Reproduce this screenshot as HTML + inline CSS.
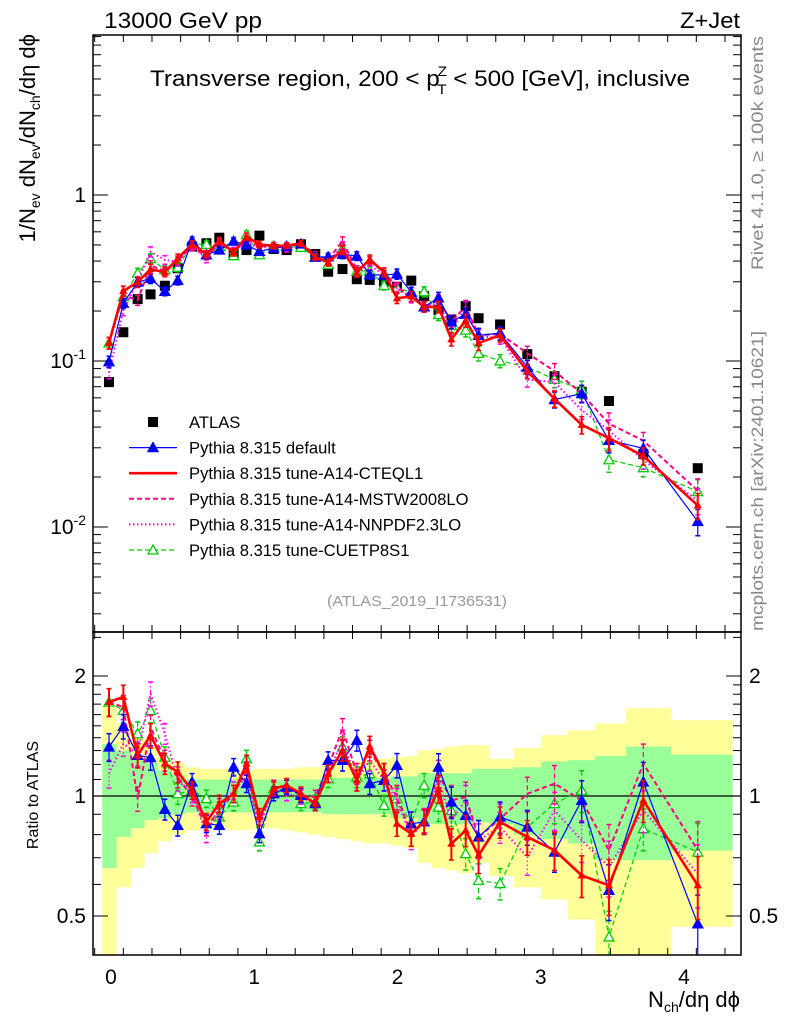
<!DOCTYPE html>
<html><head><meta charset="utf-8"><style>
html,body{margin:0;padding:0;background:#fff;}
svg{display:block;font-family:"Liberation Sans",sans-serif;}
</style></head><body>
<svg id="chart" width="786" height="1024" viewBox="0 0 786 1024">
<defs>
<clipPath id="cm"><rect x="93" y="35" width="648" height="597"/></clipPath>
<clipPath id="cr"><rect x="93" y="632" width="648" height="323"/></clipPath>
</defs>
<g id="bands" clip-path="url(#cr)"></g>
<g id="marks"></g>
<rect x="93" y="35" width="648" height="597" fill="none" stroke="#000" stroke-width="1.5"/>
<rect x="93" y="632" width="648" height="323" fill="none" stroke="#000" stroke-width="1.5"/>
<g id="axes"></g>
<text x="104" y="28" font-size="22" textLength="158" lengthAdjust="spacingAndGlyphs">13000 GeV pp</text>
<text x="680" y="28" font-size="22" textLength="60" lengthAdjust="spacingAndGlyphs">Z+Jet</text>
<text x="150" y="86" font-size="22" textLength="540" lengthAdjust="spacingAndGlyphs">Transverse region, 200 &lt; p<tspan font-size="14" dy="-10" dx="-2">Z</tspan><tspan font-size="14" dy="18" dx="-9">T</tspan><tspan dy="-8"> &lt; 500 [GeV], inclusive</tspan></text>
<text transform="translate(763,36) rotate(-90)" font-size="17" fill="#888" text-anchor="end" textLength="234" lengthAdjust="spacingAndGlyphs">Rivet 4.1.0, ≥ 100k events</text>
<text transform="translate(763,631) rotate(-90)" font-size="17" fill="#888" textLength="300" lengthAdjust="spacingAndGlyphs">mcplots.cern.ch [arXiv:2401.10621]</text>
<text x="327" y="606" font-size="15" fill="#999" textLength="180" lengthAdjust="spacingAndGlyphs">(ATLAS_2019_I1736531)</text>
<text transform="translate(35,34) rotate(-90)" font-size="22" text-anchor="end">1/N<tspan font-size="14" dy="5">ev</tspan><tspan dy="-5"> dN</tspan><tspan font-size="14" dy="5">ev</tspan><tspan dy="-5">/dN</tspan><tspan font-size="14" dy="5">ch</tspan><tspan dy="-5">/dη dϕ</tspan></text>
<text transform="translate(38,795) rotate(-90)" font-size="16" text-anchor="middle">Ratio to ATLAS</text>
<text x="740" y="1007" font-size="22" text-anchor="end">N<tspan font-size="14" dy="5">ch</tspan><tspan dy="-5">/dη dϕ</tspan></text>
<g id="legend"></g>
</svg>
<script>
const xs=[0,0.1,0.2,0.29,0.39,0.48,0.58,0.68,0.77,0.87,0.96,1.05,1.15,1.24,1.34,1.44,1.53,1.63,1.73,1.82,1.92,2.01,2.11,2.2,2.3,2.39,2.49,2.58,2.73,2.92,3.11,3.3,3.49,3.73,4.11];
const atlas=[0.0746,0.149,0.236,0.252,0.284,0.362,0.489,0.512,0.553,0.446,0.466,0.569,0.473,0.466,0.505,0.441,0.345,0.358,0.311,0.308,0.301,0.280,0.305,0.246,0.203,0.178,0.214,0.181,0.166,0.110,0.081,0.0653,0.0574,0.0275,0.0226];
const rDefault=[1.327,1.495,1.265,1.248,0.926,0.844,1.084,0.852,0.844,1.182,1.074,0.804,1.013,1.053,1.004,0.957,1.229,1.229,1.379,1.074,1.095,1.194,0.852,0.861,1.182,0.966,0.894,0.789,0.886,0.836,0.723,0.975,0.580,1.084,0.478];
const rCTEQ=[1.721,1.772,1.265,1.419,1.205,1.149,1.033,0.861,0.957,1.013,1.205,0.886,1.043,1.064,1.013,0.957,1.138,1.302,1.095,1.332,1.138,0.852,0.804,0.861,1.043,0.759,0.820,0.710,0.861,0.789,0.731,0.632,0.597,0.975,0.597];
const rMSTW=[1.721,1.672,0.985,1.490,1.229,1.116,0.994,0.836,0.920,1.013,1.160,0.861,1.053,1.053,1.004,0.994,1.182,1.475,1.138,1.302,1.138,0.994,0.804,0.869,1.138,0.975,0.994,0.789,0.877,1.013,1.074,0.975,0.731,1.205,0.731];
const rNNPDF=[1.138,1.353,1.277,1.806,1.433,1.095,1.013,0.804,0.938,1.033,1.116,0.836,1.053,1.013,0.994,0.957,1.138,1.379,1.095,1.229,1.095,0.975,0.789,0.869,1.095,0.869,0.975,0.774,0.836,0.703,0.920,0.774,0.664,0.920,0.639];
const rCUETP=[1.721,1.640,1.433,1.640,1.252,1.013,1.033,0.985,0.886,0.966,1.240,0.767,1.043,1.053,0.957,0.966,1.105,1.327,1.116,1.138,0.947,0.985,0.852,1.064,0.938,0.920,0.717,0.614,0.603,0.836,0.957,1.033,0.443,0.828,0.723];
const mcErr=[0.08,0.07,0.07,0.07,0.06,0.06,0.05,0.05,0.05,0.05,0.05,0.05,0.04,0.04,0.04,0.04,0.05,0.06,0.06,0.06,0.06,0.07,0.07,0.07,0.08,0.09,0.09,0.10,0.09,0.10,0.11,0.12,0.16,0.12,0.18];
const yelHi=[1.69,1.52,1.40,1.33,1.25,1.21,1.18,1.17,1.17,1.16,1.16,1.17,1.17,1.17,1.18,1.18,1.20,1.20,1.22,1.23,1.24,1.25,1.26,1.30,1.31,1.33,1.34,1.34,1.24,1.32,1.42,1.46,1.52,1.66,1.55];
const yelLo=[0.39,0.59,0.66,0.72,0.77,0.80,0.82,0.83,0.83,0.82,0.82,0.83,0.83,0.82,0.81,0.80,0.79,0.78,0.77,0.76,0.76,0.75,0.74,0.68,0.66,0.65,0.64,0.68,0.63,0.59,0.55,0.49,0.39,0.39,0.47];
const grnHi=[1.35,1.30,1.25,1.21,1.16,1.13,1.10,1.10,1.10,1.10,1.10,1.10,1.10,1.10,1.10,1.10,1.11,1.11,1.11,1.11,1.11,1.12,1.12,1.14,1.14,1.14,1.14,1.17,1.17,1.18,1.22,1.23,1.26,1.33,1.27];
const grnLo=[0.66,0.79,0.83,0.87,0.88,0.90,0.91,0.91,0.91,0.91,0.91,0.91,0.91,0.91,0.91,0.91,0.90,0.90,0.90,0.90,0.90,0.88,0.88,0.85,0.85,0.85,0.85,0.86,0.85,0.80,0.78,0.76,0.69,0.69,0.73];
const xTicks=[0,1,2,3,4];
const mainTicks=[0.01,0.1,1];
const mainTickLabels=["10⁻²","10⁻¹","1"];
const ratioTicks=[0.5,1,2];
const ratioTickLabels=["0.5","1","2"];

const NS="http://www.w3.org/2000/svg";
const X=v=>109+v*143.25;
const Ym=v=>195-166*Math.log10(v);
const Yr=r=>796-120*Math.log2(r);
function el(tag,attrs,parent){const e=document.createElementNS(NS,tag);for(const k in attrs)e.setAttribute(k,attrs[k]);parent.appendChild(e);return e;}
const bands=document.getElementById('bands'),marks=document.getElementById('marks'),axes=document.getElementById('axes'),legend=document.getElementById('legend');

const edges=[xs[0]-0.047];
for(let i=0;i<xs.length-1;i++)edges.push((xs[i]+xs[i+1])/2);
edges.push(4.35);
for(let i=0;i<xs.length;i++){
  const y=el('rect',{x:X(edges[i]),y:Yr(yelHi[i]),width:X(edges[i+1])-X(edges[i])+0.5,height:Yr(yelLo[i])-Yr(yelHi[i]),fill:'#ffff99'},bands);
  
  
}
for(let i=0;i<xs.length;i++){
  const g=el('rect',{x:X(edges[i]),y:Yr(grnHi[i]),width:X(edges[i+1])-X(edges[i])+0.5,height:Yr(grnLo[i])-Yr(grnHi[i]),fill:'#99ff99'},bands);
  
  
}
const one=el('line',{x1:93,x2:741,y1:Yr(1),y2:Yr(1),stroke:'#000','stroke-width':1.2},marks);



const series=[
 {name:'cuetp8s1',r:rCUETP,color:'#00cc00',w:1.2,dash:'5,3',marker:'open'},
 {name:'nnpdf',r:rNNPDF,color:'#ff00ff',w:2,dash:'1.5,2.5',marker:null},
 {name:'mstw',r:rMSTW,color:'#ff0080',w:2,dash:'5,3',marker:null},
 {name:'default',r:rDefault,color:'#0000ff',w:1.2,dash:null,marker:'filled'},
 {name:'cteql1',r:rCTEQ,color:'#ff0000',w:2.6,dash:null,marker:'small'}
];
function tri(g,cx,cy,s,color,filled){
  const p=el('polygon',{points:`${cx},${cy-s} ${cx-s},${cy+s*0.8} ${cx+s},${cy+s*0.8}`,fill:filled?color:'#fff',stroke:color,'stroke-width':1.3},g);
  
  
}
function drawSeries(s,panel){
  const g=el('g',{'clip-path':panel==='main'?'url(#cm)':'url(#cr)'},marks);
  
  
  const val=i=>panel==='main'?atlas[i]*s.r[i]:s.r[i];
  const Y=panel==='main'?Ym:Yr;
  for(let i=0;i<xs.length;i++){
    const v=val(i),e=v*mcErr[i];
    const b=el('line',{x1:X(xs[i]),x2:X(xs[i]),y1:Y(v+e),y2:Y(Math.max(v-e,1e-4)),stroke:s.color,'stroke-width':s.w>2?2:1.2},g);
    if(s.dash)b.setAttribute('stroke-dasharray',s.dash);
    
    
    for(const yy of [Y(v+e),Y(Math.max(v-e,1e-4))]){
      const c=el('line',{x1:X(xs[i])-2.5,x2:X(xs[i])+2.5,y1:yy,y2:yy,stroke:s.color,'stroke-width':1.5},g);
      
      
    }
  }
  const pts=xs.map((x,i)=>X(x)+','+Y(val(i))).join(' ');
  const pl=el('polyline',{points:pts,fill:'none',stroke:s.color,'stroke-width':s.w},g);
  if(s.dash)pl.setAttribute('stroke-dasharray',s.dash);
  
  
  for(let i=0;i<xs.length;i++){
    if(s.marker==='filled')tri(g,X(xs[i]),Y(val(i)),5,s.color,true);
    else if(s.marker==='open')tri(g,X(xs[i]),Y(val(i)),5,s.color,false);
    else if(s.marker==='small')tri(g,X(xs[i]),Y(val(i)),3,s.color,true);
  }
}
const ga=el('g',{'clip-path':'url(#cm)'},marks);


for(let i=0;i<xs.length;i++){
  const r=el('rect',{x:X(xs[i])-5,y:Ym(atlas[i])-5,width:10,height:10,fill:'#000'},ga);
  
  
}
series.forEach(s=>{drawSeries(s,'main');drawSeries(s,'ratio');});

function tick(x1,y1,x2,y2,name){const t=el('line',{x1,y1,x2,y2,stroke:'#000','stroke-width':1},axes);}
function label(x,y,txt,anchor,size,name){const t=el('text',{x,y,'text-anchor':anchor,'font-size':size},axes);t.textContent=txt;}
for(let v=-0.1;v<=4.41;v+=0.2){
  const vv=Math.round(v*10)/10; if(X(vv)<94||X(vv)>740)continue;
  const major=Math.abs(vv-Math.round(vv))<1e-6;
  const L=major?14:7;
  tick(X(vv),35,X(vv),35+L,'x-tick-top');
  tick(X(vv),632,X(vv),632-L,'x-tick-main-bottom');
  tick(X(vv),632,X(vv),632+L,'x-tick-ratio-top');
  tick(X(vv),955,X(vv),955-L,'x-tick-bottom');
}
xTicks.forEach(v=>label(X(v)+2,984,String(v),'middle',21,'x-tick-label'));
for(let d=-3;d<=0;d++){
  for(let m=1;m<10;m++){
    const v=m*Math.pow(10,d),y=Ym(v);
    if(y<36||y>631)continue;
    const L=m===1?15:8;
    tick(93,y,93+L,y,'y-tick-left');tick(741,y,741-L,y,'y-tick-right');
  }
}
mainTicks.forEach((v,i)=>{
  const t=el('text',{x:86,y:Ym(v)+7,'text-anchor':'end','font-size':21},axes);
  if(v===1){t.textContent='1';}
  else{t.textContent='10';const s=el('tspan',{'font-size':14,dy:-9},t);s.textContent=String(Math.round(Math.log10(v)));}
  
  
});
[0.4,0.5,0.6,0.7,0.8,0.9,1,1.1,1.2,1.3,1.4,1.5,1.6,1.7,1.8,1.9,2,2.5].forEach(v=>{
  const y=Yr(v);if(y<633||y>954)return;
  const L=(v===0.5||v===1||v===2)?15:8;
  tick(93,y,93+L,y,'ratio-tick-left');tick(741,y,741-L,y,'ratio-tick-right');
});
ratioTicks.forEach((v,i)=>{
  label(86,Yr(v)+7,ratioTickLabels[i],'end',21,'ratio-tick-label-left');
  label(749,Yr(v)+7,ratioTickLabels[i],'start',21,'ratio-tick-label-right');
});

const leg=[
 {t:'ATLAS',type:'atlas'},
 {t:'Pythia 8.315 default',color:'#0000ff',w:1.2,dash:null,m:'filled'},
 {t:'Pythia 8.315 tune-A14-CTEQL1',color:'#ff0000',w:2.6,dash:null},
 {t:'Pythia 8.315 tune-A14-MSTW2008LO',color:'#ff0080',w:2,dash:'5,3'},
 {t:'Pythia 8.315 tune-A14-NNPDF2.3LO',color:'#ff00ff',w:2,dash:'1.5,2.5'},
 {t:'Pythia 8.315 tune-CUETP8S1',color:'#00cc00',w:1.2,dash:'5,3',m:'open'}
];
leg.forEach((e,i)=>{
  const y=422+i*25.6;
  const g=el('g',{},legend);
  
  
  if(e.type==='atlas'){el('rect',{x:148,y:y-5,width:10,height:10,fill:'#000'},g);}
  else{
    const l=el('line',{x1:129,x2:177,y1:y,y2:y,stroke:e.color,'stroke-width':e.w},g);
    if(e.dash)l.setAttribute('stroke-dasharray',e.dash);
    if(e.m)tri(g,153,y,5,e.color,e.m==='filled');
  }
  const t=el('text',{x:189,y:y+6,'font-size':16.6},g);t.textContent=e.t;
});
</script>
</body></html>
